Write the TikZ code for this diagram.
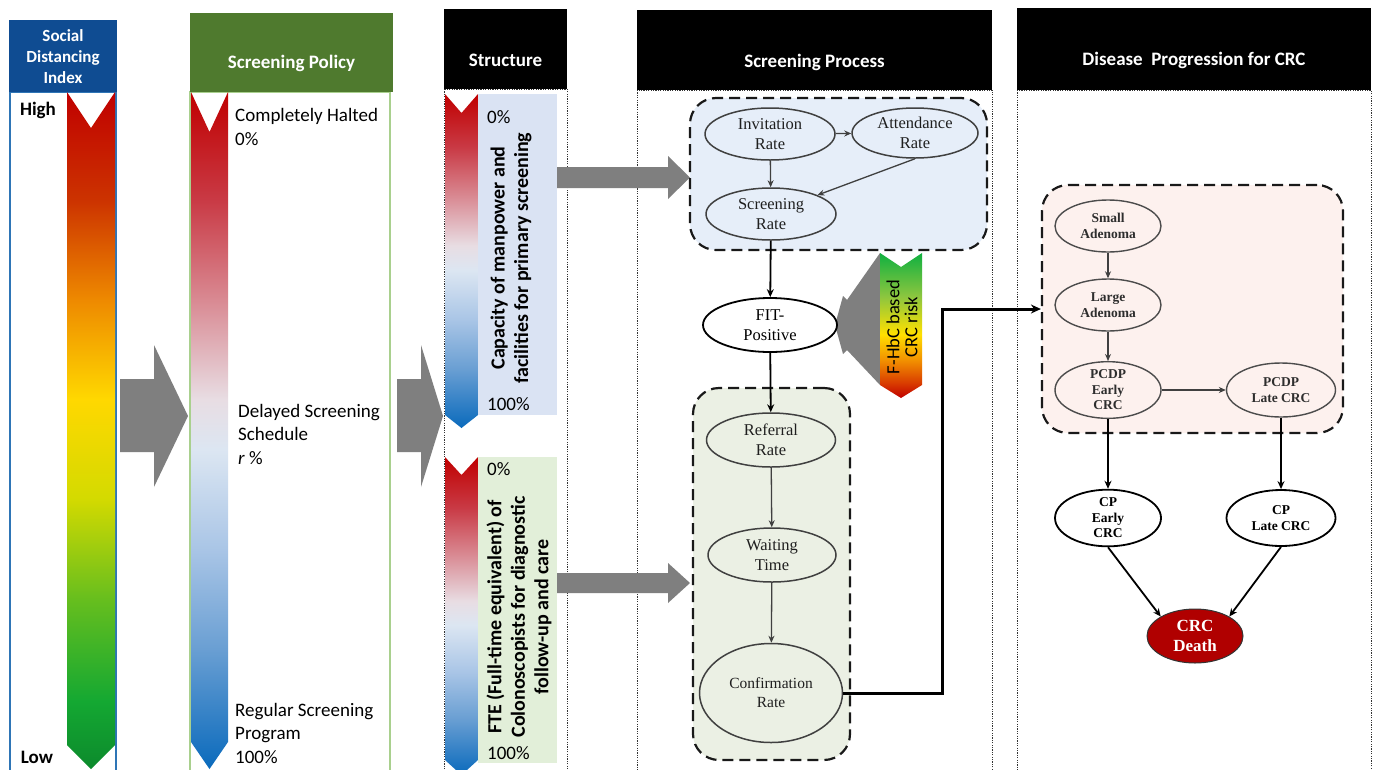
\documentclass[tikz,border=0pt]{standalone}
\usepackage{fontspec}
\setmainfont{Carlito}
\newfontfamily\tms{Liberation Serif}
\usetikzlibrary{shapes.geometric,arrows.meta}
\definecolor{sdiA}{HTML}{0C8A2C}
\definecolor{sdiB}{HTML}{14A832}
\definecolor{sdiC}{HTML}{66BE1E}
\definecolor{sdiD}{HTML}{D4DA00}
\definecolor{sdiE}{HTML}{FFD800}
\definecolor{sdiF}{HTML}{EE8A00}
\definecolor{sdiG}{HTML}{CC3300}
\definecolor{sdiH}{HTML}{C00000}
\pgfdeclareverticalshading{sdishade}{100bp}{color(0bp)=(sdiA); color(25bp)=(sdiA); color(30bp)=(sdiB); color(37.5bp)=(sdiC); color(45bp)=(sdiD); color(52.3bp)=(sdiE); color(59.6bp)=(sdiF); color(67bp)=(sdiG); color(75bp)=(sdiH); color(100bp)=(sdiH)}
\definecolor{rbA}{HTML}{0A6ABC}
\definecolor{rbB}{HTML}{6A9FD3}
\definecolor{rbC}{HTML}{A9C5E6}
\definecolor{rbD}{HTML}{DCE6F2}
\definecolor{rbE}{HTML}{E8DDE3}
\definecolor{rbF}{HTML}{D98A93}
\definecolor{rbG}{HTML}{C93A45}
\definecolor{rbH}{HTML}{C00000}
\pgfdeclareverticalshading{rbshade}{100bp}{color(0bp)=(rbA); color(25bp)=(rbA); color(33.9bp)=(rbB); color(41.2bp)=(rbC); color(48.6bp)=(rbD); color(52.3bp)=(rbE); color(59.6bp)=(rbF); color(67bp)=(rbG); color(75bp)=(rbH); color(100bp)=(rbH)}
\definecolor{fhA}{HTML}{C00000}
\definecolor{fhB}{HTML}{D83A00}
\definecolor{fhC}{HTML}{F29000}
\definecolor{fhD}{HTML}{FFE000}
\definecolor{fhE}{HTML}{8CC63F}
\definecolor{fhF}{HTML}{10B040}
\pgfdeclareverticalshading{fhshade}{100bp}{color(0bp)=(fhA); color(25bp)=(fhA); color(30bp)=(fhB); color(38bp)=(fhC); color(47bp)=(fhD); color(60bp)=(fhE); color(75bp)=(fhF); color(100bp)=(fhF)}
\definecolor{sdiblue}{HTML}{0F4C92}
\definecolor{sdiborder}{HTML}{2E75B6}
\definecolor{polgreen}{HTML}{4F7A2E}
\definecolor{polborder}{HTML}{A9D08E}
\definecolor{panelblue}{HTML}{DAE3F3}
\definecolor{panelgreen}{HTML}{E2EFD9}
\definecolor{grpblue}{HTML}{E6EEF9}
\definecolor{grpgreen}{HTML}{EBF0E4}
\definecolor{grppink}{HTML}{FDF1EE}
\definecolor{blockgray}{HTML}{7F7F7F}
\definecolor{deathred}{HTML}{B00000}

\begin{document}
\begin{tikzpicture}[x=1pt,y=-1pt,
 hbox/.style={rectangle, inner sep=0pt, outer sep=0pt},
 htxt/.style={text=white, font=\bfseries\fontsize{19}{23}\selectfont, align=center, inner sep=0pt},
 lbl/.style={anchor=west, font=\fontsize{19}{23.5}\selectfont, align=left, inner sep=0pt},
 vtxt/.style={rotate=90, font=\bfseries\fontsize{20}{23.5}\selectfont, align=center, inner sep=0pt},
 colline/.style={draw=black!80, line width=0.7pt, dash pattern=on 1.2pt off 1.2pt},
 grp/.style={rectangle, rounded corners=26pt, dash pattern=on 11pt off 6pt, line width=2.2pt, draw=black!90, inner sep=0pt},
 sp/.style={ellipse, draw=black!75, line width=1.5pt, inner sep=0pt, font=\tms\fontsize{16.5}{20}\selectfont, text=black!88, align=center},
 dp/.style={ellipse, draw=black!70, line width=1.4pt, inner sep=0pt, font=\tms\bfseries\fontsize{13.5}{15.5}\selectfont, text=black!82, align=center},
 cpn/.style={dp, draw=black, line width=1.8pt, fill=white, text=black},
 garr/.style={draw=black!75, line width=1.3pt, -{Stealth[length=7pt,width=6pt]}},
 karr/.style={draw=black, line width=1.8pt, -{Stealth[length=8pt,width=7pt]}},
 blk/.style={fill=blockgray, draw=none},
]
\useasboundingbox (0,0) rectangle (1373,769);
\fill[white] (0,0) rectangle (1373,769);

% ---------- column bodies ----------
\draw[draw=sdiborder, line width=1.2pt] (10,92) rectangle (116,790);
\draw[draw=polborder, line width=1.2pt] (190,92) rectangle (390,790);
\draw[colline] (444,89) rectangle (567,790);
\draw[colline] (637,90) rectangle (992,790);
\draw[colline] (1017,90) rectangle (1371,790);

% ---------- headers ----------
\node[hbox, fill=sdiblue, minimum width=108pt, minimum height=72pt] (hSDI) at (63,56) {};
\node[htxt, font=\bfseries\fontsize{17}{21}\selectfont] (tSDI) at (63,57) {Social\\Distancing\\Index};
\node[hbox, fill=polgreen, minimum width=203pt, minimum height=79pt] (hPol) at (291.5,52.5) {};
\node[htxt] (tPol) at (291.5,63) {Screening Policy};
\node[hbox, fill=black, minimum width=123pt, minimum height=80pt] (hStr) at (505.5,49) {};
\node[htxt] (tStr) at (505.5,60) {Structure};
\node[hbox, fill=black, minimum width=355pt, minimum height=80pt] (hSP) at (814.5,50) {};
\node[htxt] (tSP) at (814.5,62) {Screening Process};
\node[hbox, fill=black, minimum width=354pt, minimum height=82pt] (hDP) at (1194,49) {};
\node[htxt] (tDP) at (1194,60) {Disease\ \ Progression for CRC};

% ---------- gradient arrows ----------
\shade[shading=sdishade] (67,92) -- (91,128) -- (115,92) -- (115,745) -- (91,769) -- (67,745) -- cycle;
\shade[shading=rbshade] (191,92) -- (209.5,132) -- (228,92) -- (228,742) -- (209.5,769) -- (191,742) -- cycle;

% structure panels
\fill[panelblue] (478,94) rectangle (557,415);
\fill[panelgreen] (478,457) rectangle (557,763);
\shade[shading=rbshade] (445,94) -- (461.5,113) -- (478,94) -- (478,415) -- (461.5,428) -- (445,415) -- cycle;
\shade[shading=rbshade] (445,457) -- (461.5,475) -- (478,457) -- (478,760) -- (461.5,775) -- (445,760) -- cycle;

% ---------- labels ----------
\node[font=\bfseries\fontsize{19}{23}\selectfont, inner sep=0pt] (lHigh) at (38,110) {High};
\node[font=\bfseries\fontsize{19}{23}\selectfont, inner sep=0pt] (lLow) at (37,757) {Low};
\node[lbl] (lHalt) at (235,127) {Completely Halted\\0\%};
\node[lbl] (lDelay) at (238,434) {Delayed Screening\\Schedule\\\textit{r} \%};
\node[lbl] (lReg) at (235,733) {Regular Screening\\Program\\100\%};

\node[lbl] (s0a) at (487,117) {0\%};
\node[lbl] (s100a) at (487,404) {100\%};
\node[lbl] (s0b) at (487,469) {0\%};
\node[lbl] (s100b) at (487,753) {100\%};
\node[vtxt] (capTxt) at (511,258) {Capacity of manpower and\\facilities for primary screening};
\node[vtxt] (fteTxt) at (519,617) {FTE (Full-time equivalent) of\\Colonoscopists for diagnostic\\follow-up and care};

% ---------- block arrows ----------
\fill[blk] (120,379) -- (154,379) -- (154,345) -- (188,416) -- (154,487) -- (154,452) -- (120,452) -- cycle;
\fill[blk] (397,379) -- (421,379) -- (421,345) -- (443,416) -- (421,487) -- (421,452) -- (397,452) -- cycle;
\fill[blk] (557,167) -- (668,167) -- (668,156) -- (690,177.5) -- (668,199) -- (668,188) -- (557,188) -- cycle;
\fill[blk] (557,573) -- (668,573) -- (668,563) -- (690,583) -- (668,603) -- (668,593) -- (557,593) -- cycle;
\fill[blk] (880,253) -- (847,300) -- (843,296) -- (835,325) -- (843,354) -- (847,350) -- (880,385) -- cycle;

% F-HbC arrow
\shade[shading=fhshade] (880,253) -- (901,267) -- (922,253) -- (922,385) -- (901,398) -- (880,385) -- cycle;
\node[rotate=90, font=\fontsize{18.5}{18}\selectfont, align=center, inner sep=0pt] (fhTxt) at (902,327) {F-HbC based\\CRC risk};

% ---------- groups ----------
\node[grp, fill=grpblue, minimum width=297pt, minimum height=152pt] (gTop) at (838.5,174) {};
\node[grp, fill=grpgreen, minimum width=157pt, minimum height=372pt] (gBot) at (771.5,574) {};
\node[grp, fill=grppink, minimum width=301pt, minimum height=248pt] (gDis) at (1192.5,309) {};

% ---------- screening process nodes ----------
\node[sp, minimum width=130pt, minimum height=52pt] (inv) at (770,134) {Invitation\\Rate};
\node[sp, minimum width=126pt, minimum height=50pt] (att) at (915,133) {Attendance\\Rate};
\node[sp, minimum width=130pt, minimum height=52pt] (scr) at (771,214) {Screening\\Rate};
\node[sp, draw=black, line width=1.8pt, fill=white, text=black, minimum width=134pt, minimum height=54pt] (fit) at (770,325) {FIT-\\Positive};
\node[sp, minimum width=129pt, minimum height=54pt] (ref) at (771,440) {Referral\\Rate};
\node[sp, minimum width=128pt, minimum height=54pt] (wait) at (772,555) {Waiting\\Time};
\node[sp, font=\tms\fontsize{15.5}{19}\selectfont, minimum width=143pt, minimum height=99pt] (conf) at (771,693) {Confirmation\\Rate};

\draw[garr] (inv) -- (att);
\draw[garr] (inv) -- (scr);
\draw[garr] (att.south) -- (scr.north east);
\draw[karr] (scr) -- (fit);
\draw[karr] (fit) -- (ref);
\draw[garr] (ref) -- (wait);
\draw[garr] (wait) -- (conf);

% ---------- disease progression nodes ----------
\node[dp, minimum width=106pt, minimum height=52pt] (sa) at (1108,226) {Small\\Adenoma};
\node[dp, minimum width=106pt, minimum height=52pt] (la) at (1108,305) {Large\\Adenoma};
\node[dp, minimum width=106pt, minimum height=54pt] (pe) at (1108,390) {PCDP\\Early\\CRC};
\node[dp, minimum width=109pt, minimum height=54pt] (pl) at (1281,390) {PCDP\\Late CRC};
\node[cpn, minimum width=106pt, minimum height=54pt] (cpe) at (1108,518) {CP\\Early\\CRC};
\node[cpn, minimum width=109pt, minimum height=56pt] (cpl) at (1281,518) {CP\\Late CRC};
\node[ellipse, draw=black!80, line width=1pt, fill=deathred, text=white, inner sep=0pt, font=\tms\bfseries\fontsize{17}{20}\selectfont, align=center, minimum width=96pt, minimum height=54pt] (death) at (1195,636) {CRC\\Death};

\draw[garr] (sa) -- (la);
\draw[garr] (la) -- (pe);
\draw[garr] (pe) -- (pl);
\draw[karr] (pe) -- (cpe);
\draw[karr] (pl) -- (cpl);
\draw[karr] (cpe.south) -- (death.north west);
\draw[karr] (cpl.south) -- (death.north east);

% ---------- long connector ----------
\coordinate (k1) at (942,309);
\draw[draw=black, line width=3pt, -{Stealth[length=10pt,width=9pt]}] (conf.east) -| (k1) -- (gDis.west);

\end{tikzpicture}
\end{document}
